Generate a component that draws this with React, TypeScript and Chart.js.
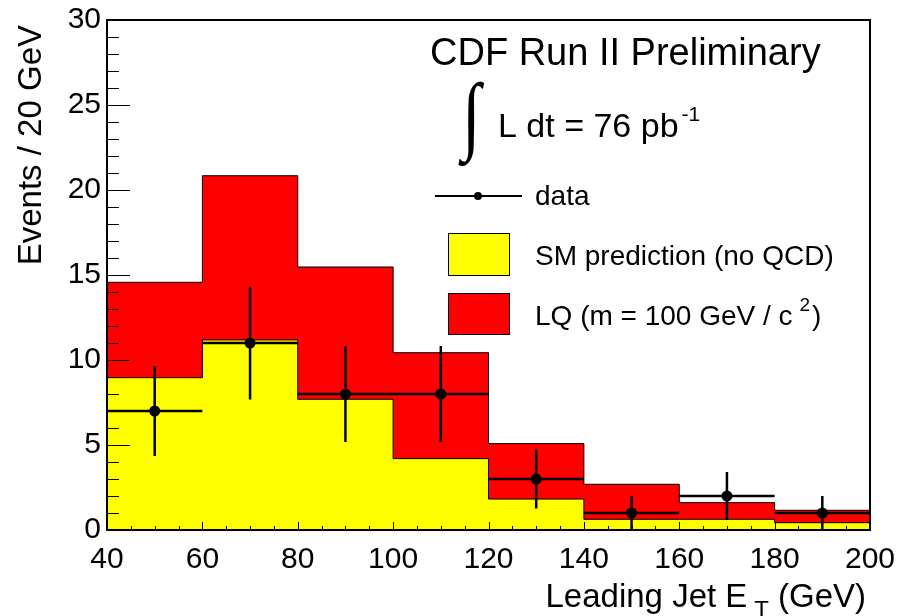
import React, { useEffect, useRef } from 'react';
import { Chart, registerables } from 'chart.js';

Chart.register(...registerables);

// ---- data ----
const binEdges = [40, 60, 80, 100, 120, 140, 160, 180, 200];
const smPrediction = [8.96, 11.18, 7.69, 4.2, 1.82, 0.63, 0.63, 0.43];
const smPlusLQ = [14.57, 20.84, 15.47, 10.43, 5.08, 2.69, 1.61, 1.16];
const dataX = [50, 70, 90, 110, 130, 150, 170, 190];
const dataY = [7, 11, 8, 8, 3, 1, 2, 1];
const dataErr = [2.65, 3.32, 2.83, 2.83, 1.73, 1.0, 1.41, 1.0];

const xLimits = [40, 200];
const yLimits = [0, 30];
const xMajorStep = 20;
const xMinorStep = 5;
const yMajorStep = 5;
const yMinorStep = 1;

const xTitleMain = 'Leading Jet E';
const xTitleSub = 'T';
const xTitleUnit = '(GeV)';
const yTitle = 'Events / 20 GeV';
const headerText = 'CDF Run II Preliminary';
const lumiText = 'L dt = 76 pb';
const lumiSup = '-1';
const legendData = 'data';
const legendSM = 'SM prediction (no QCD)';
const legendLQ = 'LQ (m = 100 GeV / c';
const legendLQSup = '2';

const FONT = "'Liberation Sans', Arial, Helvetica, sans-serif";
const YELLOW = '#ffff00';
const RED = '#ff0000';

function histPoints(values: number[]) {
  return binEdges.map((x, i) => ({ x, y: values[Math.min(i, values.length - 1)] }));
}

const rootStyle = {
  id: 'rootStyle',
  afterDatasetsDraw(chart: any) {
    const { ctx, chartArea: a, scales } = chart;
    const xs = scales.x;
    const ys = scales.y;
    ctx.save();
    // error bars
    ctx.strokeStyle = '#000';
    ctx.lineWidth = 2.5;
    dataY.forEach((v, i) => {
      const px = xs.getPixelForValue(dataX[i]);
      const py = ys.getPixelForValue(v);
      ctx.beginPath();
      ctx.moveTo(xs.getPixelForValue(binEdges[i]), py);
      ctx.lineTo(xs.getPixelForValue(binEdges[i + 1]), py);
      ctx.moveTo(px, ys.getPixelForValue(v + dataErr[i]));
      ctx.lineTo(px, ys.getPixelForValue(Math.max(0, v - dataErr[i])));
      ctx.stroke();
    });
    // markers on top
    ctx.fillStyle = '#000';
    dataY.forEach((v, i) => {
      ctx.beginPath();
      ctx.arc(xs.getPixelForValue(dataX[i]), ys.getPixelForValue(v), 5.5, 0, Math.PI * 2);
      ctx.fill();
    });
    // ticks
    ctx.lineWidth = 1;
    ctx.beginPath();
    for (let v = xLimits[0]; v <= xLimits[1] + 1e-9; v += xMinorStep) {
      const px = Math.round(xs.getPixelForValue(v)) + 0.5;
      const major = Math.abs(((v - xLimits[0]) / xMajorStep) - Math.round((v - xLimits[0]) / xMajorStep)) < 1e-6;
      ctx.moveTo(px, a.bottom);
      ctx.lineTo(px, a.bottom - (major ? 8 : 4));
    }
    for (let v = yLimits[0]; v <= yLimits[1] + 1e-9; v += yMinorStep) {
      const py = Math.round(ys.getPixelForValue(v)) + 0.5;
      const major = Math.abs((v / yMajorStep) - Math.round(v / yMajorStep)) < 1e-6;
      ctx.moveTo(a.left, py);
      ctx.lineTo(a.left + (major ? 23 : 12), py);
    }
    ctx.stroke();
    // frame
    ctx.lineWidth = 2;
    ctx.strokeRect(a.left, a.top, a.right - a.left, a.bottom - a.top);
    ctx.restore();
  },
  afterDraw(chart: any) {
    const { ctx } = chart;
    ctx.save();
    ctx.fillStyle = '#000';
    ctx.textBaseline = 'alphabetic';
    ctx.textAlign = 'left';

    // x title with subscript
    ctx.font = `33px ${FONT}`;
    const wUnit = ctx.measureText(xTitleUnit).width;
    const unitX = 866 - wUnit;
    ctx.fillText(xTitleUnit, unitX, 607);
    ctx.font = `24px ${FONT}`;
    const wSub = ctx.measureText(xTitleSub).width;
    const subX = unitX - 9 - wSub;
    ctx.fillText(xTitleSub, subX, 618);
    ctx.font = `33px ${FONT}`;
    ctx.textAlign = 'right';
    ctx.fillText(xTitleMain, subX - 7, 607);
    ctx.textAlign = 'left';

    // y title
    ctx.save();
    ctx.translate(41, 25);
    ctx.rotate(-Math.PI / 2);
    ctx.textAlign = 'right';
    ctx.font = `33px ${FONT}`;
    ctx.fillText(yTitle, 0, 0);
    ctx.restore();

    // header
    ctx.font = `38px ${FONT}`;
    ctx.fillText(headerText, 430, 65);

    // integral sign
    ctx.save();
    ctx.translate(462, 143);
    ctx.scale(1, 1.27);
    ctx.font = `68px 'Liberation Serif', 'DejaVu Serif', serif`;
    ctx.fillText('\u222B', 0, 0);
    ctx.restore();

    ctx.font = `34px ${FONT}`;
    ctx.fillText(lumiText, 498, 137);
    const wL = ctx.measureText(lumiText).width;
    ctx.font = `21px ${FONT}`;
    ctx.fillText(lumiSup, 498 + wL + 3, 121);

    // legend: data
    ctx.strokeStyle = '#000';
    ctx.lineWidth = 2;
    ctx.beginPath();
    ctx.moveTo(435, 196);
    ctx.lineTo(522, 196);
    ctx.stroke();
    ctx.beginPath();
    ctx.arc(478, 196, 4, 0, Math.PI * 2);
    ctx.fill();
    ctx.font = `28px ${FONT}`;
    ctx.fillText(legendData, 535, 205);

    // legend: SM
    ctx.lineWidth = 1;
    ctx.fillStyle = YELLOW;
    ctx.fillRect(448, 233, 61, 42);
    ctx.strokeRect(448.5, 233.5, 61, 42);
    ctx.fillStyle = '#000';
    ctx.fillText(legendSM, 535, 265);

    // legend: LQ
    ctx.fillStyle = RED;
    ctx.fillRect(448, 293, 61, 41);
    ctx.strokeRect(448.5, 293.5, 61, 41);
    ctx.fillStyle = '#000';
    ctx.fillText(legendLQ, 535, 325);
    const wLQ = ctx.measureText(legendLQ).width;
    ctx.font = `19px ${FONT}`;
    ctx.fillText(legendLQSup, 535 + wLQ + 7, 311);
    const wSup = ctx.measureText(legendLQSup).width;
    ctx.font = `28px ${FONT}`;
    ctx.fillText(')', 535 + wLQ + 7 + wSup + 2, 325);

    ctx.restore();
  },
};

export default function App() {
  const ref = useRef<HTMLCanvasElement | null>(null);
  useEffect(() => {
    document.body.style.margin = '0';
    const canvas = ref.current;
    if (!canvas) return;
    Chart.defaults.font.family = FONT;
    const chart = new Chart(canvas, {
      type: 'line',
      data: {
        datasets: [
          {
            label: 'LQ (m = 100 GeV / c²)',
            data: histPoints(smPlusLQ),
            stepped: 'before',
            fill: 'origin',
            backgroundColor: RED,
            borderColor: '#000',
            borderWidth: 1,
            pointRadius: 0,
            order: 3,
          },
          {
            label: 'SM prediction (no QCD)',
            data: histPoints(smPrediction),
            stepped: 'before',
            fill: 'origin',
            backgroundColor: YELLOW,
            borderColor: '#000',
            borderWidth: 1,
            pointRadius: 0,
            order: 2,
          },
          {
            label: 'data',
            data: dataX.map((x, i) => ({ x, y: dataY[i] })),
            showLine: false,
            pointRadius: 0,
            backgroundColor: '#000',
            borderColor: '#000',
            order: 1,
          },
        ],
      },
      options: {
        animation: false,
        responsive: false,
        events: [],
        layout: { padding: { top: 20, right: 31, left: 0, bottom: 0 } },
        plugins: { legend: { display: false }, tooltip: { enabled: false }, title: { display: false } },
        scales: {
          x: {
            type: 'linear',
            min: xLimits[0],
            max: xLimits[1],
            grid: { display: false, drawTicks: false },
            border: { display: false },
            ticks: {
              stepSize: xMajorStep,
              color: '#000',
              font: { size: 30, family: FONT },
              padding: 12,
              maxRotation: 0,
            },
            afterFit: (s: any) => { s.height = 86; s.paddingLeft = 0; s.paddingRight = 0; },
          },
          y: {
            type: 'linear',
            min: yLimits[0],
            max: yLimits[1],
            grid: { display: false, drawTicks: false },
            border: { display: false },
            ticks: {
              stepSize: yMajorStep,
              color: '#000',
              font: { size: 30, family: FONT },
              padding: 6,
            },
            afterFit: (s: any) => { s.width = 107; s.paddingTop = 0; s.paddingBottom = 0; },
          },
        },
      },
      plugins: [rootStyle],
    });
    return () => chart.destroy();
  }, []);
  return <canvas ref={ref} width={901} height={616} style={{ display: 'block' }} />;
}
